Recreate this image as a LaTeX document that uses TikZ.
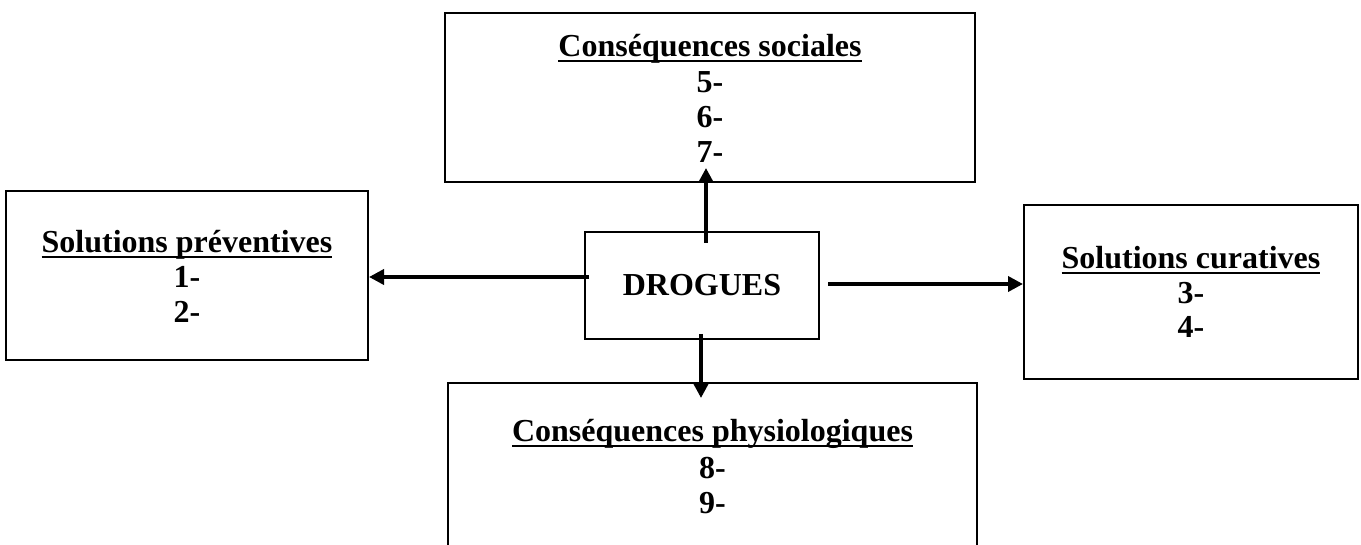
\documentclass[tikz,border=0pt]{standalone}
\usepackage{fontspec}
\setmainfont{Liberation Serif}
\usetikzlibrary{arrows.meta}
\newcommand\myul[1]{\leavevmode\setbox0\hbox{#1}\dp0=0pt\vtop{\box0\kern2.6pt\hrule height 2.6pt}}
\begin{document}
\begin{tikzpicture}[x=1pt,y=-1pt,
  box/.style={draw=black, line width=2.2pt, inner sep=0pt},
  lbl/.style={inner sep=0pt, anchor=base, font=\fontsize{32}{35}\selectfont\bfseries},
  arr/.style={line width=3.6pt, -{Triangle[length=15pt,width=15pt]}}]
\fill[white] (0,0) rectangle (1361,545);
\useasboundingbox (0,0) rectangle (1361,545);
\clip (0,0) rectangle (1361,545);
% boxes
\node[box, minimum width=530pt, minimum height=169pt] (soc) at (710,97.5) {};
\node[box, minimum width=362pt, minimum height=169pt] (prev) at (187,275.5) {};
\node[box, minimum width=334pt, minimum height=174pt] (cur) at (1191,292) {};
\node[box, minimum width=529pt, minimum height=217pt] (phys) at (712.5,491.5) {};
\node[box, minimum width=234pt, minimum height=107pt,
      font=\fontsize{32}{35}\selectfont\bfseries] (drog) at (702,285.5) {DROGUES};
% texts
\node[lbl] (socT) at (710,57) {\myul{Conséquences sociales}};
\node[lbl] (soc5) at (710,93) {5-};
\node[lbl] (soc6) at (710,128) {6-};
\node[lbl] (soc7) at (710,163) {7-};
\node[lbl] (prevT) at (187,253) {\myul{Solutions préventives}};
\node[lbl] (prev1) at (187,288) {1-};
\node[lbl] (prev2) at (187,323) {2-};
\node[lbl] (curT) at (1191,269) {\myul{Solutions curatives}};
\node[lbl] (cur3) at (1191,304) {3-};
\node[lbl] (cur4) at (1191,338) {4-};
\node[lbl] (physT) at (712.5,442) {\myul{Conséquences physiologiques}};
\node[lbl] (phys8) at (712.5,478) {8-};
\node[lbl] (phys9) at (712.5,513) {9-};
% connector end points
\coordinate (upS) at (706,243);
\coordinate (upE) at (706,168);
\coordinate (lfS) at (589,277);
\coordinate (lfE) at (369,277);
\coordinate (rtS) at (828,284);
\coordinate (rtE) at (1023,284);
\coordinate (dnS) at (701,334);
\coordinate (dnE) at (701,398);
\draw[arr] (upS) -- (upE);
\draw[arr] (lfS) -- (lfE);
\draw[arr] (rtS) -- (rtE);
\draw[arr] (dnS) -- (dnE);
\end{tikzpicture}
\end{document}
